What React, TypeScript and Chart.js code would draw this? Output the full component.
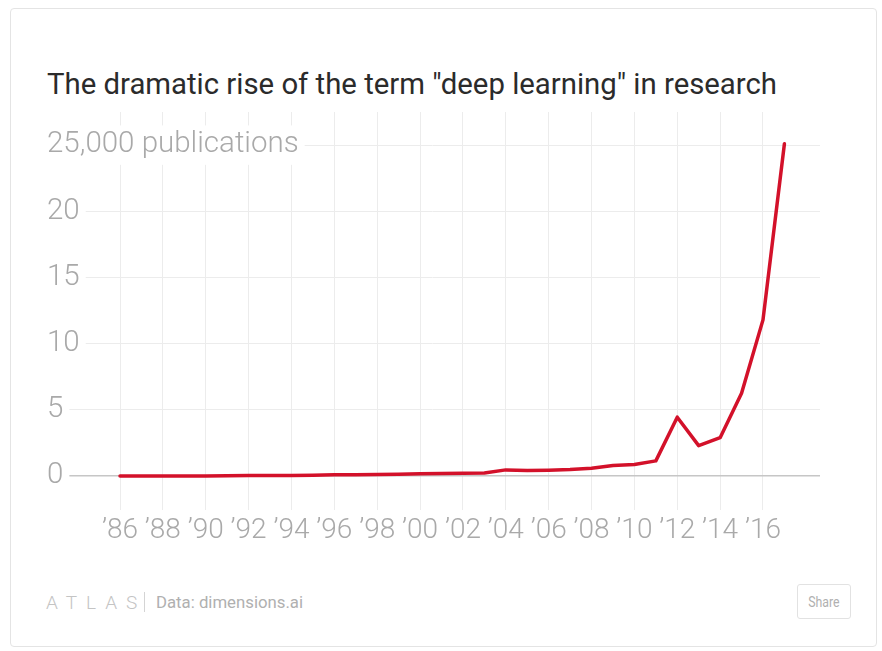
import React, { useEffect, useLayoutEffect, useRef } from "react";
import { Chart, registerables } from "chart.js";

Chart.register(...registerables);

const TITLE = 'The dramatic rise of the term "deep learning" in research';
const years = [
  1986, 1987, 1988, 1989, 1990, 1991, 1992, 1993, 1994, 1995, 1996,
  1997, 1998, 1999, 2000, 2001, 2002, 2003, 2004, 2005, 2006, 2007,
  2008, 2009, 2010, 2011, 2012, 2013, 2014, 2015, 2016, 2017,
];
// thousands of publications
const publications = [
  0.0, 0.0, 0.0, 0.0, 0.0, 0.02, 0.04, 0.04, 0.05, 0.07, 0.1,
  0.1, 0.12, 0.14, 0.17, 0.2, 0.22, 0.24, 0.47, 0.42, 0.45, 0.5,
  0.6, 0.8, 0.87, 1.15, 4.45, 2.3, 2.9, 6.25, 11.8, 25.1,
];
const yTicks = [0, 5, 10, 15, 20, 25];
const xTicks = [
  1986, 1988, 1990, 1992, 1994, 1996, 1998, 2000, 2002, 2004, 2006,
  2008, 2010, 2012, 2014, 2016,
];
const BRAND = "ATLAS";
const SOURCE = "Data: dimensions.ai";

export default function App() {
  const ref = useRef<HTMLCanvasElement | null>(null);
  const titleRef = useRef<HTMLDivElement | null>(null);
  const srcRef = useRef<HTMLSpanElement | null>(null);

  useLayoutEffect(() => {
    const fit = (el: HTMLElement | null, target: number) => {
      if (!el) return;
      el.style.transform = "none";
      const w = el.getBoundingClientRect().width;
      if (w > 0) el.style.transform = `scaleX(${target / w})`;
    };
    fit(titleRef.current, 730);
    fit(srcRef.current, 147);
  }, []);

  useEffect(() => {
    if (!ref.current) return;
    const chart = new Chart(ref.current, {
      type: "line",
      data: {
        datasets: [
          {
            data: years.map((y, i) => ({ x: y, y: publications[i] })),
            borderColor: "#d3112a",
            borderWidth: 3.5,
            pointRadius: 0,
            tension: 0,
            fill: false,
            borderCapStyle: "round",
            borderJoinStyle: "round",
          },
        ],
      },
      options: {
        animation: false,
        responsive: false,
        devicePixelRatio: 1,
        layout: { padding: { left: 45, right: 62, top: 12, bottom: 0 } },
        plugins: { legend: { display: false }, tooltip: { enabled: false } },
        scales: {
          x: {
            type: "linear",
            min: 1982.5,
            max: 2018.66,
            afterBuildTicks: (s: any) => {
              s.ticks = xTicks.map((v) => ({ value: v }));
            },
            afterFit: (s: any) => {
              s.height = 40;
              s.paddingLeft = 0;
              s.paddingRight = 0;
            },
            border: { display: false },
            grid: { color: "#ececec", lineWidth: 1, drawTicks: false },
            ticks: {
              autoSkip: false,
              maxRotation: 0,
              padding: 4,
              color: "#a9a9a9",
              font: { family: "Roboto", size: 28, weight: "300" },
              callback: (v: any) => "\u2019" + String(v).slice(2),
            },
          },
          y: {
            type: "linear",
            min: -2.56,
            max: 27.5,
            afterBuildTicks: (s: any) => {
              s.ticks = yTicks.map((v) => ({ value: v }));
            },
            afterFit: (s: any) => {
              s.width = 0;
              s.paddingTop = 0;
              s.paddingBottom = 0;
            },
            border: { display: false },
            grid: {
              drawTicks: false,
              color: (c: any) => (c.tick && c.tick.value === 0 ? "#c6c6c6" : "#ececec"),
              lineWidth: (c: any) => (c.tick && c.tick.value === 0 ? 1.5 : 1),
            },
            ticks: {
              mirror: true,
              padding: 2,
              color: "#a9a9a9",
              font: { family: "Roboto", size: 29.5, weight: "300" },
              showLabelBackdrop: true,
              backdropColor: "#ffffff",
              backdropPadding: { top: 2, bottom: 2, left: 2, right: 6 },
              callback: (v: any) => (v === 25 ? "25,000 publications" : String(v)),
            },
          },
        },
      },
    } as any);
    return () => chart.destroy();
  }, []);

  return (
    <div style={{ position: "fixed", left: 0, top: 0, width: 882, height: 651, background: "#fff" }}>
      <div
        style={{
          position: "absolute",
          left: 10,
          top: 8,
          width: 867,
          height: 639,
          border: "1px solid #e4e4e4",
          borderRadius: 4,
          boxSizing: "border-box",
        }}
      />
      <div
        ref={titleRef}
        style={{
          position: "absolute",
          left: 47,
          top: 67,
          fontFamily: "Roboto, sans-serif",
          fontSize: 29,
          lineHeight: "34px",
          color: "#2b2b2b",
          whiteSpace: "nowrap",
          transformOrigin: "0 0",
        }}
      >
        {TITLE}
      </div>
      <canvas
        ref={ref}
        width={882}
        height={450}
        style={{ position: "absolute", left: 0, top: 100, width: 882, height: 450 }}
      />
      <div
        style={{
          position: "absolute",
          left: 46,
          top: 590,
          height: 24,
          display: "flex",
          alignItems: "center",
          color: "#c4c4c4",
          whiteSpace: "nowrap",
        }}
      >
        <span style={{ fontFamily: "Roboto", fontWeight: 300, fontSize: 19, letterSpacing: 9 }}>{BRAND}</span>
        <span style={{ width: 1, height: 20, background: "#d4d4d4", margin: "0 11px 0 -2px" }} />
        <span
          ref={srcRef}
          style={{
            display: "inline-block",
            fontFamily: "Roboto, sans-serif",
            fontSize: 16,
            color: "#b0b0b0",
            transformOrigin: "0 50%",
          }}
        >
          {SOURCE}
        </span>
      </div>
      <div
        style={{
          position: "absolute",
          left: 797,
          top: 584,
          width: 54,
          height: 35,
          border: "1px solid #e2e2e2",
          borderRadius: 3,
          boxSizing: "border-box",
          display: "flex",
          alignItems: "center",
          justifyContent: "center",
          fontFamily: "Roboto, sans-serif",
          fontSize: 14,
          color: "#b0b0b0",
        }}
      >
        <span style={{ display: "inline-block", transform: "scaleX(0.88)" }}>Share</span>
      </div>
    </div>
  );
}
